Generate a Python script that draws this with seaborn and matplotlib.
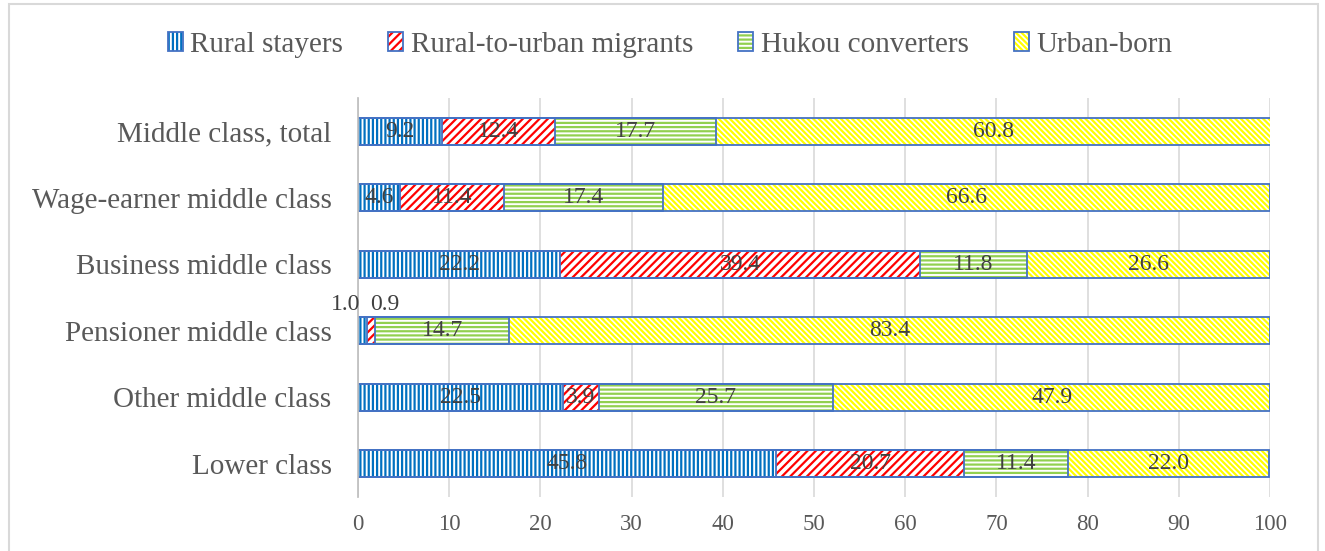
import pandas as pd
import matplotlib.pyplot as plt
import seaborn as sns
from matplotlib.patches import Patch, Rectangle
from matplotlib.legend_handler import HandlerTuple

# Data
categories = ['Middle class, total', 'Wage-earner middle class', 'Business middle class',
              'Pensioner middle class', 'Other middle class', 'Lower class']
groups = ['Rural stayers', 'Rural-to-urban migrants', 'Hukou converters', 'Urban-born']
rural_stayers = [9.2, 4.6, 22.2, 1.0, 22.5, 45.8]
migrants = [12.4, 11.4, 39.4, 0.9, 3.9, 20.7]
hukou_converters = [17.7, 17.4, 11.8, 14.7, 25.7, 11.4]
urban_born = [60.8, 66.6, 26.6, 83.4, 47.9, 22.0]

hatch_colors = ['#0070C0', '#FF0000', '#92D050', '#FFFF00']
hatches = ['||||', '////', '----', '\\' * 6]
outline = '#4472C4'
text_col = '#595959'

sns.set_theme(style='white')
plt.rcParams['font.family'] = ['Liberation Serif', 'DejaVu Serif']
plt.rcParams['hatch.linewidth'] = 1.6

df = pd.DataFrame({'category': categories,
                   groups[0]: rural_stayers,
                   groups[1]: migrants,
                   groups[2]: hukou_converters,
                   groups[3]: urban_born})
cum = df[groups].cumsum(axis=1)
cum['category'] = df['category']

fig = plt.figure(figsize=(13.25, 5.51), dpi=100)
ax = fig.add_axes([358 / 1325, 1 - 497 / 551, (1270 - 358) / 1325, (497 - 98) / 551])

# stacked bars: draw cumulative totals from the widest down
for g, c, h in reversed(list(zip(groups, hatch_colors, hatches))):
    sns.barplot(data=cum, x=g, y='category', order=categories, orient='h',
                color='white', saturation=1, edgecolor=c, linewidth=0, hatch=h,
                width=0.41, errorbar=None, ax=ax)
# blue outlines round each segment
for g in reversed(groups):
    sns.barplot(data=cum, x=g, y='category', order=categories, orient='h',
                fill=False, color=outline, edgecolor=outline, linewidth=1.3,
                width=0.41, errorbar=None, ax=ax)

# data labels
for i, cat in enumerate(categories):
    left = 0
    for g in groups:
        v = df.loc[i, g]
        xc = left + v / 2
        if cat == 'Pensioner middle class' and g in groups[:2]:
            dx = -12 if g == groups[0] else 10
            ax.annotate(f'{v:.1f}', (xc, i), xytext=(dx, 19), textcoords='offset points',
                        ha='center', va='center', fontsize=17, color='#404040')
        else:
            ax.text(xc, i, f'{v:.1f}', ha='center', va='center', fontsize=17, color='#404040')
        left += v

ax.set_xlim(0, 100)
ax.set_xticks(range(0, 101, 10))
ax.xaxis.grid(True, color='#D9D9D9', lw=1.2)
ax.set_axisbelow(True)
ax.set_xlabel('')
ax.set_ylabel('')
for s in ['top', 'right', 'bottom']:
    ax.spines[s].set_visible(False)
ax.spines['left'].set_color('#BFBFBF')
ax.tick_params(axis='x', length=0, pad=12, labelsize=16.5, labelcolor=text_col)
ax.tick_params(axis='y', length=0, pad=19, labelsize=21, labelcolor=text_col)

# legend
handles = []
for c, h in zip(hatch_colors, hatches):
    handles.append((Patch(facecolor='white', edgecolor=c, hatch=h, linewidth=0),
                    Patch(facecolor='none', edgecolor=outline, linewidth=1.3)))
leg = fig.legend(handles, groups, loc='center', bbox_to_anchor=(670 / 1325, 1 - 45 / 551),
                 ncol=4, frameon=False, fontsize=21, handlelength=0.52, handleheight=0.6,
                 handletextpad=0.25, columnspacing=1.55,
                 handler_map={tuple: HandlerTuple(ndivide=1)})
for t in leg.get_texts():
    t.set_color(text_col)

# chart area border
fig.patches.append(Rectangle((9 / 1325, -0.1), (1318 - 9) / 1325, 1.1 - 4 / 551,
                             transform=fig.transFigure, fill=False,
                             edgecolor='#D9D9D9', lw=1.5, clip_on=False))

fig.savefig('out.png', dpi=100)
